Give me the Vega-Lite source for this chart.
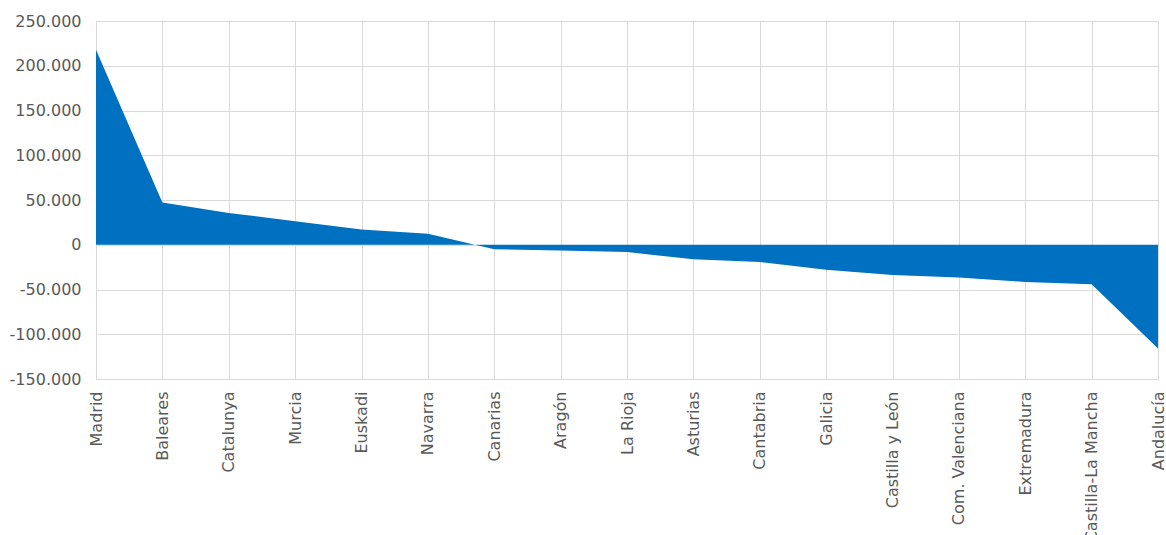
{
  "$schema": "https://vega.github.io/schema/vega-lite/v6.json",
  "width": 1062,
  "height": 358,
  "padding": {"left": 9, "top": 13, "right": 0, "bottom": 0},
  "background": "white",
  "config": {
    "locale": {"number": {"decimal": ",", "thousands": ".", "grouping": [3], "currency": ["", " €"], "minus": "-"}},
    "view": {"stroke": null},
    "font": "DejaVu Sans"
  },
  "data": {
    "values": [
      {"region": "Madrid", "value": 218000},
      {"region": "Baleares", "value": 47300},
      {"region": "Catalunya", "value": 35500},
      {"region": "Murcia", "value": 26300},
      {"region": "Euskadi", "value": 17000},
      {"region": "Navarra", "value": 12200},
      {"region": "Canarias", "value": -5000},
      {"region": "Aragón", "value": -6300},
      {"region": "La Rioja", "value": -8200},
      {"region": "Asturias", "value": -16300},
      {"region": "Cantabria", "value": -19200},
      {"region": "Galicia", "value": -28000},
      {"region": "Castilla y León", "value": -33700},
      {"region": "Com. Valenciana", "value": -36700},
      {"region": "Extremadura", "value": -41500},
      {"region": "Castilla-La Mancha", "value": -44000},
      {"region": "Andalucía", "value": -116000}
    ]
  },
  "mark": {"type": "area", "color": "#0070C0", "opacity": 1},
  "encoding": {
    "x": {
      "field": "region",
      "type": "nominal",
      "sort": null,
      "scale": {"type": "point", "padding": 0},
      "axis": {
        "title": null,
        "labelAngle": -90,
        "labelAlign": "right",
        "labelBaseline": "middle",
        "labelFontSize": 16,
        "labelColor": "#595959",
        "labelPadding": 12,
        "ticks": false,
        "domain": false,
        "grid": true,
        "gridColor": "#d9d9d9",
        "gridWidth": 1
      }
    },
    "y": {
      "field": "value",
      "type": "quantitative",
      "scale": {"domain": [-150000, 250000], "nice": false},
      "axis": {
        "title": null,
        "values": [-150000, -100000, -50000, 0, 50000, 100000, 150000, 200000, 250000],
        "format": ",d",
        "labelFontSize": 16,
        "labelColor": "#595959",
        "labelPadding": 15,
        "ticks": false,
        "domain": false,
        "grid": true,
        "gridColor": "#d9d9d9",
        "gridWidth": 1
      }
    }
  }
}
